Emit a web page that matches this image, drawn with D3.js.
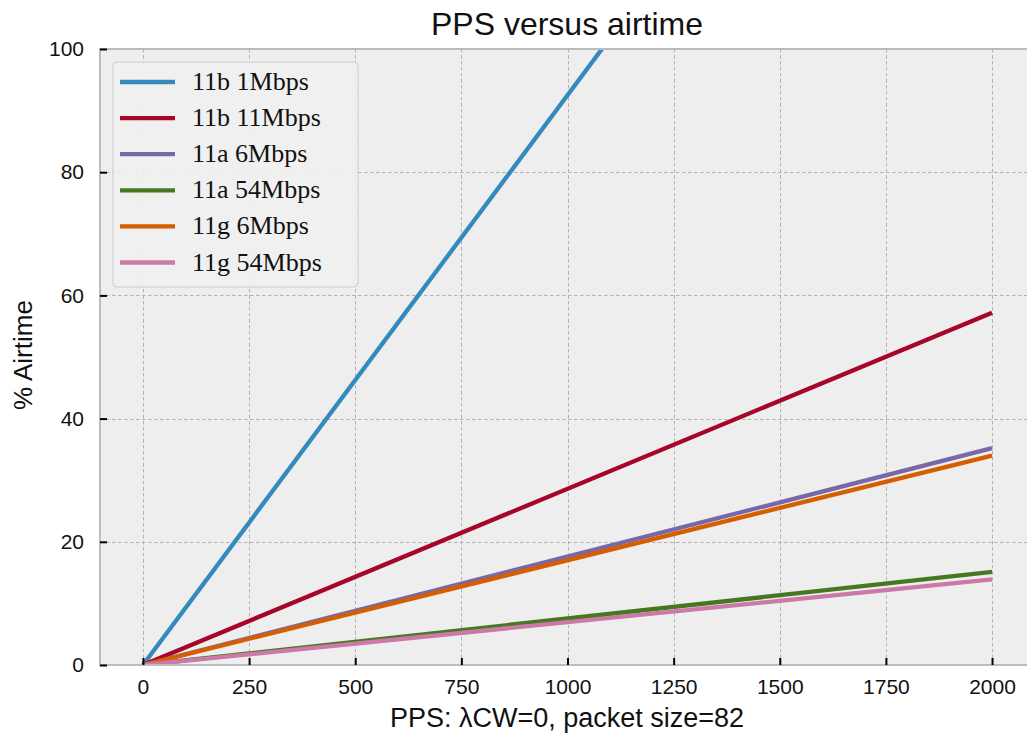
<!DOCTYPE html>
<html>
<head>
<meta charset="utf-8">
<script src="https://cdn.jsdelivr.net/npm/d3@7"></script>
<style>
  body { margin: 0; background: #fff; }
  svg { display: block; }
</style>
</head>
<body>
<svg id="chart" width="1027" height="736"></svg>
<script>
// data (all series are straight lines from the origin)
var pps = [0, 2000];
var seriesNames = ['11b 1Mbps', '11b 11Mbps', '11a 6Mbps', '11a 54Mbps', '11g 6Mbps', '11g 54Mbps'];
var airtime11b1 = [0, 185];
var airtime11b11 = [0, 57.2];
var airtime11a6 = [0, 35.2];
var airtime11a54 = [0, 15.1];
var airtime11g6 = [0, 34.0];
var airtime11g54 = [0, 13.9];
var xTicks = [0, 250, 500, 750, 1000, 1250, 1500, 1750, 2000];
var yTicks = [0, 20, 40, 60, 80, 100];

var colors = ['#348ABD', '#A60628', '#7A68A6', '#467821', '#D55E00', '#CC79A7'];
var allValues = [airtime11b1, airtime11b11, airtime11a6, airtime11a54, airtime11g6, airtime11g54];

var series = seriesNames.map(function(name, i) {
  return {
    name: name,
    color: colors[i],
    points: pps.map(function(p, j) { return [p, allValues[i][j]]; })
  };
});

var svg = d3.select('#chart');
var sans = '"Liberation Sans", "DejaVu Sans", sans-serif';
var serif = '"Liberation Serif", "DejaVu Serif", serif';

// plot box
var plotLeft = 100, plotTop = 49, plotBottom = 665, plotRight = 1034;
var x = d3.scaleLinear().domain([-100, 2100]).range([100.5, 1034.5]);
var y = d3.scaleLinear().domain([0, 100]).range([plotBottom, plotTop]);

// axes background
svg.append('rect')
  .attr('x', plotLeft).attr('y', plotTop)
  .attr('width', plotRight - plotLeft).attr('height', plotBottom - plotTop)
  .attr('fill', '#eeeeee');

// grid
var grid = svg.append('g')
  .attr('stroke', '#b2b2b2')
  .attr('stroke-width', 1)
  .attr('stroke-dasharray', '3.5,2.5');

grid.selectAll('.vgrid')
  .data(xTicks)
  .join('line')
  .attr('class', 'vgrid')
  .attr('x1', function(d) { return Math.round(x(d)) + 0.5; })
  .attr('x2', function(d) { return Math.round(x(d)) + 0.5; })
  .attr('y1', plotTop).attr('y2', plotBottom);

grid.selectAll('.hgrid')
  .data(yTicks.slice(1, -1))
  .join('line')
  .attr('class', 'hgrid')
  .attr('x1', plotLeft).attr('x2', plotRight)
  .attr('y1', function(d) { return Math.round(y(d)) + 0.5; })
  .attr('y2', function(d) { return Math.round(y(d)) + 0.5; });

// lines, clipped to the axes
svg.append('clipPath').attr('id', 'clip')
  .append('rect')
  .attr('x', plotLeft).attr('y', plotTop)
  .attr('width', plotRight - plotLeft).attr('height', plotBottom - plotTop);

var line = d3.line()
  .x(function(d) { return x(d[0]); })
  .y(function(d) { return y(d[1]); });

svg.append('g').attr('clip-path', 'url(#clip)')
  .selectAll('path')
  .data(series)
  .join('path')
  .attr('d', function(d) { return line(d.points); })
  .attr('fill', 'none')
  .attr('stroke', function(d) { return d.color; })
  .attr('stroke-width', 4.3);

// spines
svg.append('rect')
  .attr('x', plotLeft).attr('y', plotTop)
  .attr('width', plotRight - plotLeft).attr('height', plotBottom - plotTop)
  .attr('fill', 'none')
  .attr('stroke', '#bcbcbc')
  .attr('stroke-width', 2);

// x axis (ticks pointing inward)
var xAxis = d3.axisBottom(x)
  .tickValues(xTicks)
  .tickFormat(d3.format('d'))
  .tickSizeInner(-7)
  .tickSizeOuter(0)
  .tickPadding(14);

var gx = svg.append('g')
  .attr('transform', 'translate(0,' + plotBottom + ')')
  .call(xAxis);
gx.select('.domain').remove();
gx.selectAll('line').attr('stroke', '#000').attr('stroke-width', 2);
gx.selectAll('text')
  .attr('font-family', sans)
  .attr('font-size', 21)
  .attr('fill', '#111');

// y axis
var yAxis = d3.axisLeft(y)
  .tickValues(yTicks)
  .tickFormat(d3.format('d'))
  .tickSizeInner(-7)
  .tickSizeOuter(0)
  .tickPadding(16);

var gy = svg.append('g')
  .attr('transform', 'translate(' + plotLeft + ',0)')
  .call(yAxis);
gy.select('.domain').remove();
gy.selectAll('line').attr('stroke', '#000').attr('stroke-width', 2);
gy.selectAll('text')
  .attr('font-family', sans)
  .attr('font-size', 21)
  .attr('fill', '#111');

// title & labels
svg.append('text')
  .attr('x', 567).attr('y', 35)
  .attr('text-anchor', 'middle')
  .attr('font-family', sans)
  .attr('font-size', 32)
  .attr('fill', '#111')
  .text('PPS versus airtime');

svg.append('text')
  .attr('x', 567).attr('y', 727)
  .attr('text-anchor', 'middle')
  .attr('font-family', sans)
  .attr('font-size', 27)
  .attr('fill', '#111')
  .text('PPS: \u03BBCW=0, packet size=82');

svg.append('text')
  .attr('transform', 'translate(32,355) rotate(-90)')
  .attr('text-anchor', 'middle')
  .attr('font-family', sans)
  .attr('font-size', 26)
  .attr('fill', '#111')
  .text('% Airtime');

// legend
var legend = svg.append('g');
legend.append('rect')
  .attr('x', 113).attr('y', 62)
  .attr('width', 245).attr('height', 225)
  .attr('rx', 4)
  .attr('fill', '#f0f0f0')
  .attr('fill-opacity', 0.9)
  .attr('stroke', '#cccccc')
  .attr('stroke-width', 1);

var entries = legend.selectAll('.entry')
  .data(series)
  .join('g')
  .attr('class', 'entry')
  .attr('transform', function(d, i) { return 'translate(0,' + (82 + i * 36.1) + ')'; });

entries.append('line')
  .attr('x1', 120).attr('x2', 175)
  .attr('y1', 0).attr('y2', 0)
  .attr('stroke', function(d) { return d.color; })
  .attr('stroke-width', 4.3);

entries.append('text')
  .attr('x', 192).attr('y', 8)
  .attr('font-family', serif)
  .attr('font-size', 26)
  .attr('fill', '#111')
  .text(function(d) { return d.name; });
</script>
</body>
</html>
